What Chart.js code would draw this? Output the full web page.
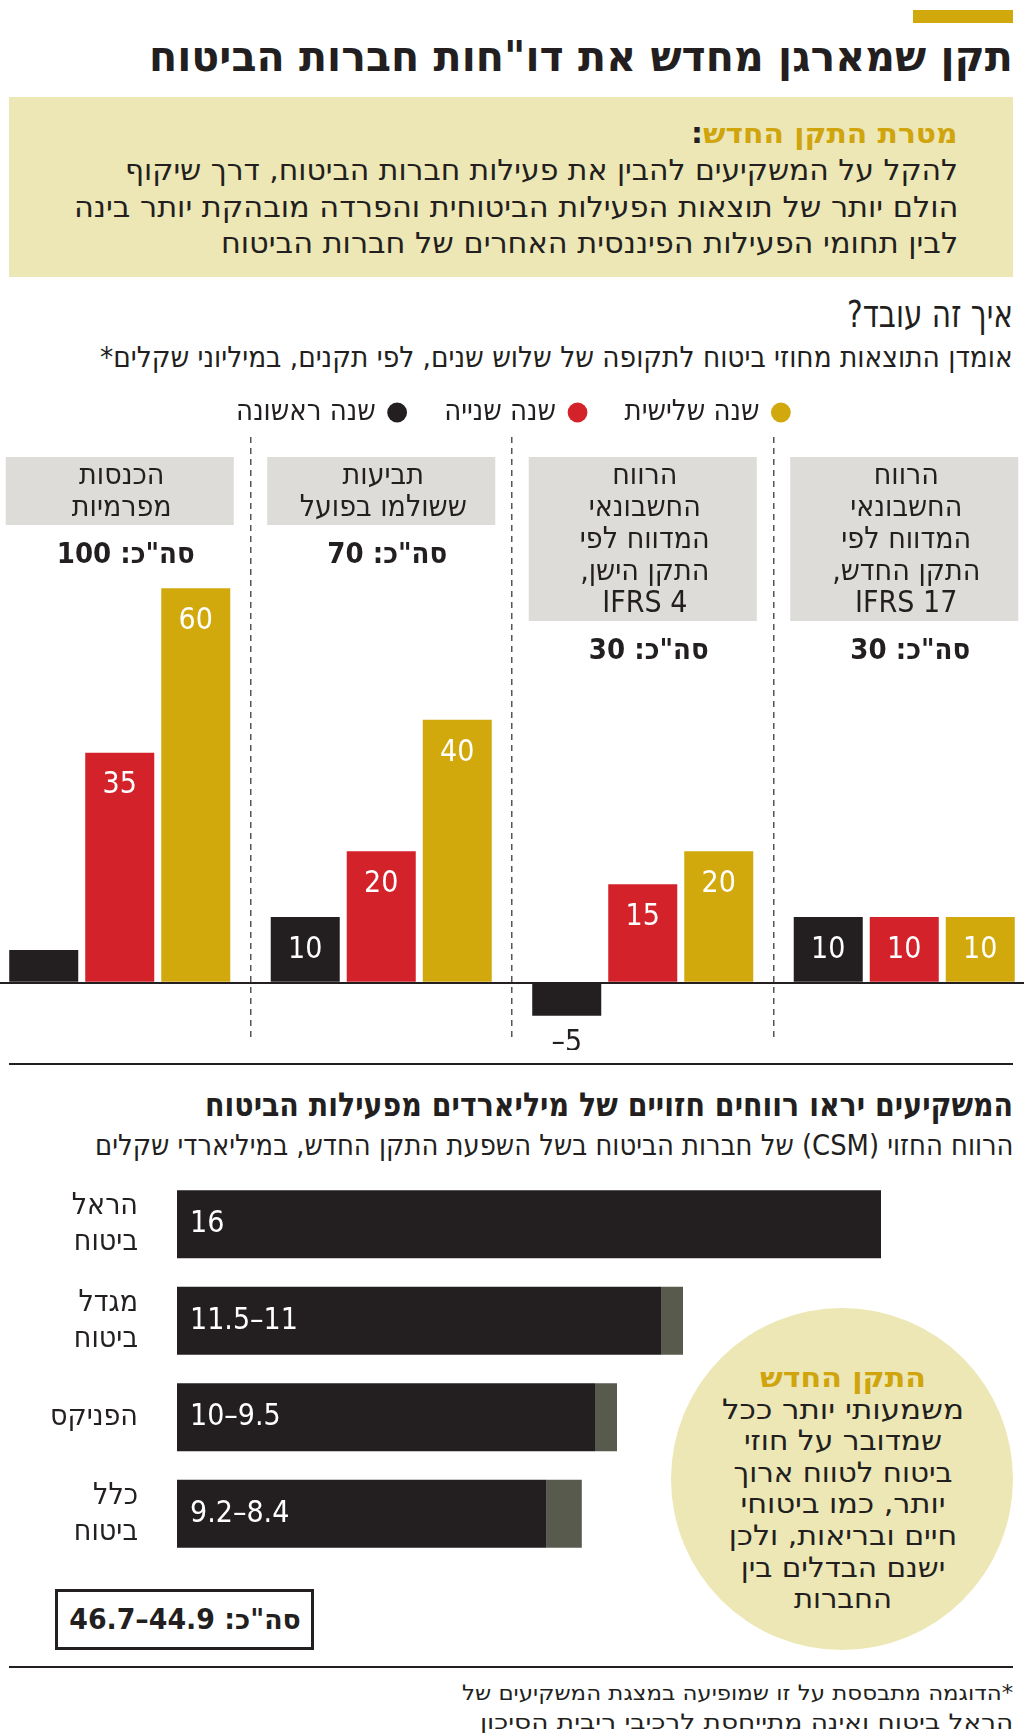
<!DOCTYPE html>
<html lang="he">
<head>
<meta charset="utf-8">
<script src="https://cdn.jsdelivr.net/npm/chart.js@4.4.1/dist/chart.umd.min.js"></script>
<style>
  body { margin:0; width:1024px; height:1734px; position:relative; overflow:hidden; background:#fff;
         font-family:"DejaVu Sans Condensed","DejaVu Sans",sans-serif; color:#231f20; }
  .t { position:absolute; white-space:nowrap; direction:rtl; transform-origin:right center; }
  .c { position:absolute; white-space:nowrap; direction:rtl; transform-origin:center center; }
  .b { font-weight:bold; }
  .blk { position:absolute; }
  canvas { position:absolute; }
</style>
</head>
<body>
<div class="blk" style="left:913px;top:10px;width:100px;height:13px;background:#d2a90c"></div>
<div class="t b" style="right:11px;top:36px;font-size:42px;line-height:42px" data-w="864">תקן שמארגן מחדש את דו"חות חברות הביטוח</div>

<div class="blk" style="left:9px;top:97px;width:1004px;height:180px;background:#ede7b5"></div>
<div class="t b" style="right:66px;top:120px;font-size:28px;line-height:28px" data-w="267"><span style="color:#cfa40c">מטרת התקן החדש</span>:</div>
<div class="t" style="right:66px;top:156px;font-size:29px;line-height:29px" data-w="833">להקל על המשקיעים להבין את פעילות חברות הביטוח, דרך שיקוף</div>
<div class="t" style="right:66px;top:193px;font-size:29px;line-height:29px" data-w="884">הולם יותר של תוצאות הפעילות הביטוחית והפרדה מובהקת יותר בינה</div>
<div class="t" style="right:66px;top:229px;font-size:29px;line-height:29px" data-w="737">לבין תחומי הפעילות הפיננסית האחרים של חברות הביטוח</div>

<div class="t" style="right:11px;top:295px;font-size:38px;line-height:38px" data-w="166">איך זה עובד?</div>
<div class="t" style="right:11px;top:343px;font-size:29px;line-height:29px" data-w="913">אומדן התוצאות מחוזי ביטוח לתקופה של שלוש שנים, לפי תקנים, במיליוני שקלים*</div>

<canvas id="bars" width="1046" height="692" style="left:-11px;top:358px"></canvas>

<div class="blk" style="left:9px;top:1063px;width:1004px;height:2px;background:#231f20"></div>
<div class="t b" style="right:11px;top:1088px;font-size:33px;line-height:33px" data-w="808">המשקיעים יראו רווחים חזויים של מיליארדים מפעילות הביטוח</div>
<div class="t" style="right:11px;top:1131px;font-size:29px;line-height:29px" data-w="919">הרווח החזוי (CSM) של חברות הביטוח בשל השפעת התקן החדש, במיליארדי שקלים</div>

<div class="blk" style="left:671px;top:1308px;width:342px;height:342px;border-radius:50%;background:#ede7b5"></div>
<div class="c b" style="left:843px;top:1364px;font-size:28px;line-height:28px;color:#cfa40c" data-w="166" data-pre="translateX(-50%)">התקן החדש</div>
<div class="c" style="left:843px;top:1396px;font-size:28px;line-height:28px" data-w="242" data-pre="translateX(-50%)">משמעותי יותר ככל</div>
<div class="c" style="left:843px;top:1427px;font-size:28px;line-height:28px" data-w="198" data-pre="translateX(-50%)">שמדובר על חוזי</div>
<div class="c" style="left:843px;top:1459px;font-size:28px;line-height:28px" data-w="219" data-pre="translateX(-50%)">ביטוח לטווח ארוך</div>
<div class="c" style="left:843px;top:1490px;font-size:28px;line-height:28px" data-w="205" data-pre="translateX(-50%)">יותר, כמו ביטוחי</div>
<div class="c" style="left:843px;top:1522px;font-size:28px;line-height:28px" data-w="228" data-pre="translateX(-50%)">חיים ובריאות, ולכן</div>
<div class="c" style="left:843px;top:1554px;font-size:28px;line-height:28px" data-w="205" data-pre="translateX(-50%)">ישנם הבדלים בין</div>
<div class="c" style="left:843px;top:1585px;font-size:28px;line-height:28px" data-w="98" data-pre="translateX(-50%)">החברות</div>

<canvas id="csm" width="1024" height="386" style="left:0;top:1176px"></canvas>

<div class="blk" style="left:55px;top:1589px;width:259px;height:61px;border:3px solid #231f20;box-sizing:border-box"></div>
<div class="c b" id="csmTotal" style="left:185px;top:1606px;font-size:28px;line-height:28px" data-w="232" data-pre="translateX(-50%)"></div>

<div class="blk" style="left:9px;top:1666px;width:1004px;height:2px;background:#231f20"></div>
<div class="t" style="right:11px;top:1683px;font-size:21px;line-height:21px" data-w="551">*הדוגמה מתבססת על זו שמופיעה במצגת המשקיעים של</div>
<div class="t" style="right:11px;top:1712px;font-size:21px;line-height:21px" data-w="533">הראל ביטוח ואינה מתייחסת לרכיבי ריבית הסיכון</div>

<script>
// צבעים
const gold = '#d2a90c';
const red = '#d3222a';
const black = '#231f20';
const rangeGray = '#585a4e';
const fontFamily = '"DejaVu Sans Condensed", "DejaVu Sans", sans-serif';

// גרף 1 - אומדן תוצאות לשלוש שנים (מימין לשמאל)
const categories = [
  ['הרווח', 'החשבונאי', 'המדווח לפי', 'התקן החדש,', 'IFRS 17'],
  ['הרווח', 'החשבונאי', 'המדווח לפי', 'התקן הישן,', 'IFRS 4'],
  ['תביעות', 'ששולמו בפועל'],
  ['הכנסות', 'מפרמיות']
];
const yearLabels = ['שנה ראשונה', 'שנה שנייה', 'שנה שלישית'];
const year1 = [10, -5, 10, 5];
const year2 = [10, 15, 20, 35];
const year3 = [10, 20, 40, 60];

// גרף 2 - CSM לפי חברה
const companies = [['הראל', 'ביטוח'], ['מגדל', 'ביטוח'], 'הפניקס', ['כלל', 'ביטוח']];
const csmLow = [16, 11, 9.5, 8.4];
const csmHigh = [16, 11.5, 10, 9.2];

const headerPlugin = {
  id: 'headers',
  afterDraw(chart) {
    const ctx = chart.ctx;
    const x = chart.scales.x;
    ctx.save();
    ctx.direction = 'rtl';
    ctx.textAlign = 'center';
    ctx.textBaseline = 'middle';
    categories.forEach((lines, i) => {
      const cx = x.getPixelForValue(i);
      const top = 99;
      const h = lines.length * 32 + 4;
      ctx.fillStyle = '#dddcd8';
      ctx.fillRect(cx - 114, top, 228, h);
      ctx.fillStyle = black;
      ctx.font = '30px ' + fontFamily;
      lines.forEach((l, j) => ctx.fillText(l, cx + 2, top + 19 + j * 32));
      const total = year1[i] + year2[i] + year3[i];
      ctx.font = 'bold 29px ' + fontFamily;
      ctx.fillText('סה"כ: ' + total, cx + 6, top + h + 30);
    });
    ctx.restore();
  }
};

const valuePlugin = {
  id: 'values',
  afterDatasetsDraw(chart) {
    const ctx = chart.ctx;
    ctx.save();
    ctx.direction = 'ltr';
    ctx.textAlign = 'center';
    ctx.textBaseline = 'middle';
    ctx.font = '30px ' + fontFamily;
    chart.data.datasets.forEach((ds, d) => {
      chart.getDatasetMeta(d).data.forEach((bar, i) => {
        const v = ds.data[i];
        if (v < 0) {
          ctx.fillStyle = black;
          ctx.fillText('–' + (-v), bar.x, bar.y + 28);
        } else if (v >= 8) {
          ctx.fillStyle = '#fff';
          ctx.fillText(String(v), bar.x, bar.y + 33);
        }
      });
    });
    ctx.restore();
  }
};

new Chart(document.getElementById('bars'), {
  type: 'bar',
  data: {
    labels: categories,
    datasets: [
      { label: yearLabels[0], data: year1, backgroundColor: black },
      { label: yearLabels[1], data: year2, backgroundColor: red },
      { label: yearLabels[2], data: year3, backgroundColor: gold }
    ]
  },
  options: {
    responsive: false,
    animation: false,
    layout: { padding: { bottom: 8 } },
    datasets: { bar: { categoryPercentage: 0.872, barPercentage: 0.908 } },
    plugins: {
      tooltip: { enabled: false },
      legend: {
        rtl: true,
        reverse: true,
        textDirection: 'rtl',
        labels: {
          usePointStyle: true,
          pointStyle: 'circle',
          boxWidth: 14,
          boxHeight: 14,
          padding: 40,
          color: black,
          font: { family: fontFamily, size: 29 }
        }
      }
    },
    scales: {
      x: {
        reverse: true,
        ticks: { display: false },
        grid: { offset: true, color: '#555', lineWidth: 1.5, drawTicks: false },
        border: { display: false, dash: [6, 5] }
      },
      y: {
        min: -9,
        max: 83,
        ticks: { display: false, stepSize: 10 },
        grid: { drawTicks: false, lineWidth: 2, color: c => c.tick.value === 0 ? black : 'transparent' },
        border: { display: false }
      }
    }
  },
  plugins: [headerPlugin, valuePlugin]
});

const csmLabelPlugin = {
  id: 'csmLabels',
  afterDatasetsDraw(chart) {
    const ctx = chart.ctx;
    const meta = chart.getDatasetMeta(0);
    ctx.save();
    ctx.direction = 'rtl';
    ctx.textAlign = 'left';
    ctx.textBaseline = 'middle';
    ctx.font = '30px ' + fontFamily;
    ctx.fillStyle = '#fff';
    meta.data.forEach((bar, i) => {
      const txt = csmLow[i] === csmHigh[i] ? String(csmLow[i]) : csmLow[i] + '–' + csmHigh[i];
      ctx.fillText(txt, chart.chartArea.left + 13, bar.y);
    });
    ctx.restore();
  }
};

new Chart(document.getElementById('csm'), {
  type: 'bar',
  data: {
    labels: companies,
    datasets: [
      { data: csmLow, backgroundColor: black, grouped: false },
      { data: csmLow.map((v, i) => [v, csmHigh[i]]), backgroundColor: rangeGray, grouped: false }
    ]
  },
  options: {
    indexAxis: 'y',
    responsive: false,
    animation: false,
    layout: { padding: { right: 11 } },
    datasets: { bar: { categoryPercentage: 0.8, barPercentage: 0.88 } },
    plugins: { legend: { display: false }, tooltip: { enabled: false } },
    scales: {
      x: { display: false, min: 0, max: 19 },
      y: {
        grid: { display: false, drawTicks: false },
        border: { display: false },
        ticks: { color: black, padding: 39, font: { family: fontFamily, size: 30, lineHeight: 1.2 } },
        afterFit(scale) {
          scale.width = 177;
          scale.paddingTop = 0;
          scale.paddingBottom = 0;
        }
      }
    }
  },
  plugins: [csmLabelPlugin]
});

const sumLow = csmLow.reduce((a, b) => a + b, 0);
const sumHigh = csmHigh.reduce((a, b) => a + b, 0);
document.getElementById('csmTotal').textContent = 'סה"כ: ' + sumLow.toFixed(1) + '–' + sumHigh.toFixed(1);

// התאמת רוחב שורות הטקסט
document.querySelectorAll('[data-w]').forEach(el => {
  const k = el.dataset.w / el.offsetWidth;
  el.style.transform = (el.dataset.pre || '') + ' scaleX(' + k + ')';
});
</script>
</body>
</html>
